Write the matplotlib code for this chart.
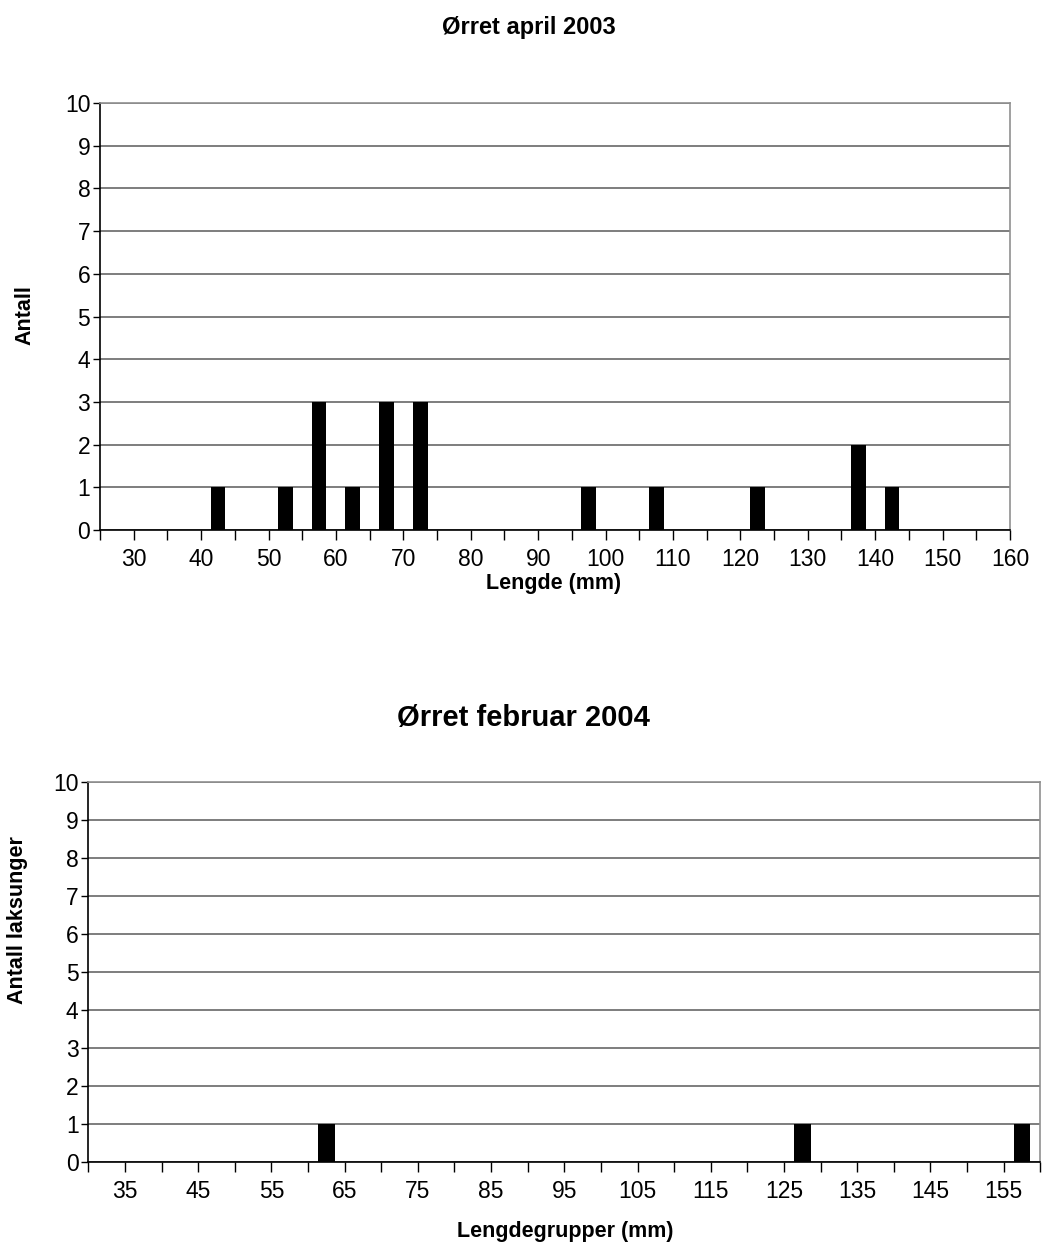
import matplotlib

matplotlib.use("Agg")
import matplotlib.pyplot as plt
import numpy as np

plt.rcParams["font.family"] = ["Liberation Sans", "DejaVu Sans"]

# April 2003: 5 mm length classes, lower bound of each class
april_bins = list(range(25, 160, 5))
april_counts = [0, 0, 0, 1, 0, 1, 3, 1, 3, 3, 0, 0, 0, 0, 1, 0, 1, 0, 0, 1,
                0, 0, 2, 1, 0, 0, 0]
april_labels = list(range(30, 161, 10))

# February 2004
feb_bins = list(range(30, 160, 5))
feb_counts = [0] * 26
feb_counts[feb_bins.index(60)] = 1
feb_counts[feb_bins.index(125)] = 1
feb_counts[feb_bins.index(155)] = 1
feb_labels = list(range(35, 156, 10))

BIN = 5
GRID = "#5a5a5a"
BORDER = "#909090"


def draw_hist(ax, bins, counts, labels, xlabel, ylabel, bar_frac):
    lo, hi = bins[0], bins[-1] + BIN
    centers = np.array(bins) + BIN / 2
    ax.bar(centers, counts, width=BIN * bar_frac, color="black", zorder=3)
    ax.set_xlim(lo, hi)
    ax.set_ylim(0, 10)
    edges = list(range(lo, hi + 1, BIN))
    ax.set_xticks(edges)
    ax.set_xticklabels([str(e) if e in labels else "" for e in edges])
    ax.set_yticks(range(0, 11))
    ax.tick_params(axis="x", direction="out", length=7, width=1, pad=6,
                   labelsize=16.5, color="black")
    ax.tick_params(axis="y", direction="out", length=5, width=1, pad=2,
                   labelsize=16.5, color="black")
    ax.yaxis.grid(True, color=GRID, linewidth=1.1, zorder=0)
    ax.set_axisbelow(True)
    for side in ("left", "bottom"):
        ax.spines[side].set_color("black")
        ax.spines[side].set_linewidth(1.2)
    for side in ("top", "right"):
        ax.spines[side].set_color(BORDER)
        ax.spines[side].set_linewidth(1.2)
    ax.set_xlabel(xlabel, fontsize=15.5, fontweight="bold", va="center")
    ax.set_ylabel(ylabel, fontsize=15.5, fontweight="bold", va="center")


fig = plt.figure(figsize=(10.44, 12.59), dpi=100)

ax1 = fig.add_axes([0.0958, 0.579, 0.8716, 0.3392])
draw_hist(ax1, april_bins, april_counts, april_labels,
          "Lengde (mm)", "Antall", 0.44)
ax1.xaxis.set_label_coords(0.498, -0.125)
ax1.yaxis.set_label_coords(-0.082, 0.503)
fig.text(0.507, 0.978, "Ørret april 2003", ha="center", va="center",
         fontsize=17, fontweight="bold")

ax2 = fig.add_axes([0.0846, 0.0770, 0.9119, 0.3019])
draw_hist(ax2, feb_bins, feb_counts, feb_labels,
          "Lengdegrupper (mm)", "Antall laksunger", 0.46)
ax2.xaxis.set_label_coords(0.501, -0.184)
ax2.yaxis.set_label_coords(-0.074, 0.637)
fig.text(0.501, 0.430, "Ørret februar 2004", ha="center", va="center",
         fontsize=21, fontweight="bold")

fig.savefig("out.png", dpi=100)
